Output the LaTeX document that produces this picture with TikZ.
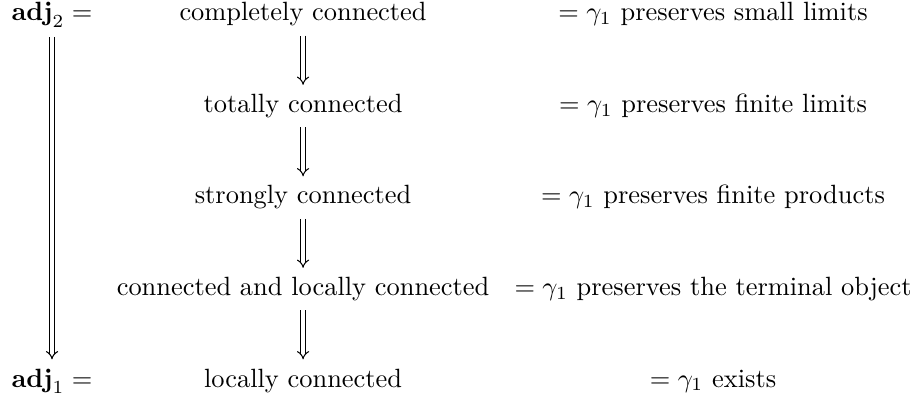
\documentclass[tikz,border=0pt]{standalone}
\usepackage{amsmath}
\usetikzlibrary{arrows.meta,cd}
\tikzset{%
  cell/.style={anchor=base},
  imp/.style={double,double distance=1.2pt,-{tikzcd implies}}
}
\begin{document}
\begin{tikzpicture}
  \useasboundingbox (-19.7pt,7.95pt) rectangle (328.4pt,-144.05pt);

  \node[cell] (adjtwo) at (0,0) {$\mathbf{adj}_2 =$};
  \node[cell] (adjone) at (0,-138.64pt) {$\mathbf{adj}_1 =$};

  \node[cell] (cc) at (95.1pt,0) {completely connected};
  \node[cell] (tc) at (95.1pt,-34.66pt) {totally connected};
  \node[cell] (sc) at (95.1pt,-69.32pt) {strongly connected};
  \node[cell] (clc) at (95.1pt,-103.98pt) {connected and locally connected};
  \node[cell] (lc) at (95.1pt,-138.64pt) {locally connected};

  \node[cell] (psl) at (250.4pt,0) {$= \gamma_1$ preserves small limits};
  \node[cell] (pfl) at (250.4pt,-34.66pt) {$= \gamma_1$ preserves finite limits};
  \node[cell] (pfp) at (250.4pt,-69.32pt) {$= \gamma_1$ preserves finite products};
  \node[cell] (pto) at (250.4pt,-103.98pt) {$= \gamma_1$ preserves the terminal object};
  \node[cell] (ex) at (250.4pt,-138.64pt) {$= \gamma_1$ exists};

  \draw[imp] (adjtwo) -- (adjone);
  \draw[imp] (cc) -- (tc);
  \draw[imp] (tc) -- (sc);
  \draw[imp] (sc) -- (clc);
  \draw[imp] (clc) -- (lc);
\end{tikzpicture}
\end{document}
